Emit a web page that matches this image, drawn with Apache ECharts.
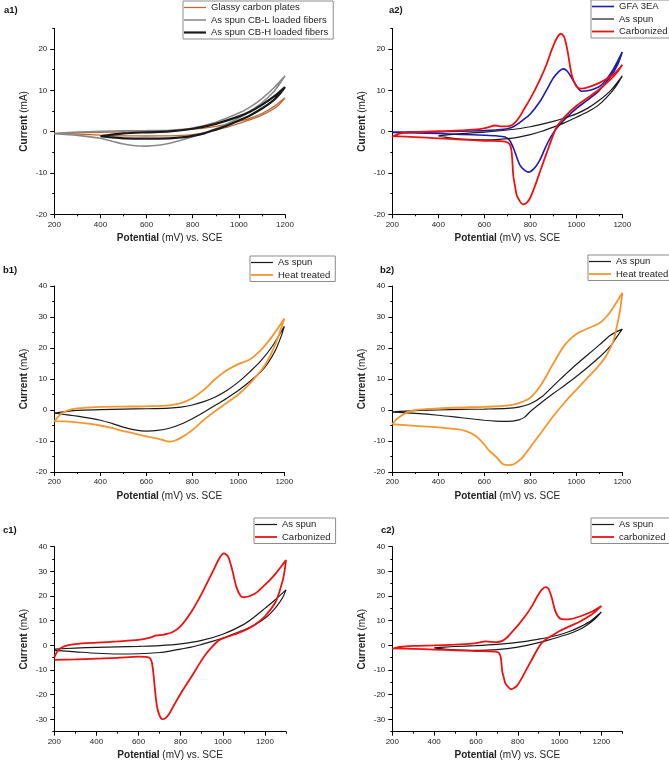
<!DOCTYPE html>
<html><head><meta charset="utf-8">
<script src="https://cdn.jsdelivr.net/npm/echarts@6/dist/echarts.min.js"></script>
<style>html,body{margin:0;padding:0;background:#fff}#c{width:669px;height:765px}</style>
</head><body><div id="c"></div>
<script>
// ---------- tick values ----------
const xTicks = [200,400,600,800,1000,1200];
const xMinor = [300,500,700,900,1100];
const xMinorC = [300,500,700,900,1100,1300];
const yTicksA = [-20,-10,0,10,20];
const yMinorA = [-15,-5,5,15,25];
const yTicksB = [-20,-10,0,10,20,30,40];
const yMinorB = [-15,-5,5,15,25,35];
const yTicksC = [-30,-20,-10,0,10,20,30,40];
const yMinorC = [-35,-25,-15,-5,5,15,25,35];

// ---------- a1 ----------
const a1Glassy = [[200,-0.4],[300,-0.25],[400,-0.15],[500,-0.05],[600,0.05],[700,0.2],[800,0.6],[900,1.3],[1000,2.5],[1050,3.3],[1100,4.4],[1150,6.0],[1200,8.2],
 [1175,6.6],[1150,5.5],[1100,4.0],[1050,2.9],[1000,2.0],[950,1.1],[900,0.4],[850,-0.3],[800,-0.7],[750,-0.9],[700,-1.0],[600,-1.05],[500,-1.0],[400,-0.85],[300,-0.6],[200,-0.4]];
const a1CBL = [[200,-0.5],[300,-0.1],[400,0.1],[500,0.2],[600,0.25],[700,0.35],[800,0.9],[900,2.3],[1000,4.5],[1050,6.0],[1100,8.0],[1150,10.5],[1200,13.5],
 [1175,11.4],[1150,9.6],[1100,7.0],[1050,5.0],[1000,3.3],[950,1.9],[900,0.7],[850,-0.3],[800,-1.2],[750,-2.1],[700,-2.8],[650,-3.3],[600,-3.5],[550,-3.4],[500,-3.0],[450,-2.3],[400,-1.6],[300,-0.9],[200,-0.5]];
const a1CBH = [[400,-1.1],[450,-0.7],[500,-0.4],[600,-0.15],[700,0.05],[800,0.7],[900,1.9],[1000,3.7],[1050,4.9],[1100,6.5],[1150,8.4],[1200,10.8],
 [1175,9.0],[1150,7.6],[1100,5.6],[1050,4.0],[1000,2.7],[950,1.5],[900,0.5],[850,-0.4],[800,-1.0],[750,-1.4],[700,-1.6],[600,-1.7],[500,-1.6],[450,-1.4],[400,-1.1]];

// ---------- a2 ----------
const a2GFA = [[200,-0.1],[300,-0.05],[400,0],[500,0.1],[600,0.25],[650,0.4],[700,0.7],[730,1.3],[770,2.9],[800,4.3],[842,7.3],[870,10.0],[900,13.0],[925,14.6],[943,15.2],[960,14.7],[980,13.0],[1000,11.2],[1023,9.8],[1050,9.9],[1080,10.4],[1103,11.0],[1130,12.6],[1160,15.0],[1200,19.3],
 [1180,16.3],[1150,13.4],[1100,10.0],[1050,7.7],[1000,5.6],[960,3.6],[930,1.8],[900,-0.3],[870,-3.3],[842,-6.8],[815,-9.0],[791,-9.8],[772,-9.2],[755,-8.1],[740,-6.0],[726,-3.9],[710,-2.1],[690,-1.3],[650,-1.0],[600,-0.85],[500,-0.65],[400,-0.45],[300,-0.3],[200,-0.2]];
const a2Spun = [[400,-1.0],[450,-0.7],[500,-0.45],[600,-0.1],[700,0.4],[800,1.2],[900,2.5],[950,3.3],[1000,4.3],[1050,5.7],[1100,7.6],[1150,10.0],[1200,13.5],
 [1175,11.2],[1150,9.4],[1100,6.6],[1050,4.8],[1000,3.5],[950,2.2],[900,1.1],[850,0.1],[800,-0.7],[750,-1.3],[700,-1.7],[650,-1.9],[600,-2.0],[500,-1.8],[450,-1.5],[400,-1.0]];
const a2Carb = [[200,-1.3],[225,-0.6],[250,-0.3],[300,-0.1],[400,0.1],[500,0.3],[580,0.6],[620,1.1],[645,1.5],[670,1.3],[700,1.3],[726,1.8],[750,3.3],[770,5.2],[800,8.0],[842,12.6],[870,16.2],[893,19.8],[915,22.6],[933,23.7],[948,22.8],[962,19.5],[980,13.8],[1000,11.0],[1020,10.4],[1050,10.7],[1100,11.8],[1132,12.8],[1170,14.3],[1200,16.2],
 [1175,14.2],[1150,12.7],[1100,10.2],[1050,8.2],[1000,6.2],[960,4.2],[943,3.2],[915,1.2],[895,-1.5],[871,-5.2],[845,-9.2],[820,-13.2],[797,-16.3],[780,-17.4],[767,-17.6],[754,-16.8],[741,-15.4],[733,-13.0],[726,-10.6],[719,-5.0],[710,-3.0],[690,-2.4],[600,-2.2],[500,-1.9],[400,-1.6],[300,-1.3],[200,-1.1]];

// ---------- b1 ----------
const b1Spun = [[200,-1.0],[250,-0.5],[300,-0.1],[400,0.1],[500,0.3],[600,0.4],[700,0.6],[750,0.9],[800,1.6],[850,2.7],[900,4.2],[950,6.3],[1000,9.0],[1050,12.3],[1100,16.0],[1150,20.8],[1200,27.0],
 [1185,23.5],[1160,19.0],[1130,15.3],[1100,12.5],[1050,9.2],[1000,6.3],[950,3.8],[900,1.5],[850,-0.7],[800,-2.8],[750,-4.6],[700,-5.9],[650,-6.6],[600,-6.8],[550,-6.4],[500,-5.5],[450,-4.3],[400,-3.3],[300,-2.0],[250,-1.5],[200,-1.0]];
const b1Heat = [[200,-3.7],[215,-2.3],[235,-1.0],[260,-0.1],[300,0.5],[350,0.8],[400,1.0],[500,1.1],[600,1.2],[700,1.5],[750,2.2],[800,3.8],[850,6.5],[900,10.0],[950,12.8],[1000,14.8],[1050,16.3],[1100,19.5],[1150,24.0],[1200,29.5],
 [1185,26.0],[1160,21.0],[1130,16.2],[1100,12.8],[1050,8.5],[1000,5.0],[950,2.3],[900,-0.3],[850,-3.2],[800,-6.5],[750,-9.0],[720,-10.0],[700,-10.2],[680,-9.9],[650,-9.2],[600,-8.5],[550,-7.6],[500,-6.8],[450,-5.8],[400,-5.0],[300,-4.0],[250,-3.7],[200,-3.6]];

// ---------- b2 ----------
const b2Spun = [[200,-0.6],[300,-0.2],[400,0],[500,0.2],[600,0.3],[700,0.5],[750,0.9],[800,2.0],[850,4.3],[900,7.8],[950,11.3],[1000,14.7],[1050,17.8],[1100,21.0],[1150,24.2],[1200,26.1],
 [1175,23.5],[1150,20.8],[1100,17.0],[1050,13.8],[1000,10.8],[950,8.0],[900,5.3],[850,2.5],[800,-0.5],[775,-2.3],[750,-3.2],[700,-3.7],[650,-3.6],[600,-3.3],[500,-2.5],[400,-1.7],[300,-1.1],[200,-0.7]];
const b2Heat = [[200,-4.6],[215,-3.2],[240,-1.8],[270,-0.6],[300,0],[400,0.5],[500,0.8],[600,1.0],[700,1.4],[750,2.2],[800,4.0],[850,8.5],[900,15.0],[950,21.0],[1000,24.5],[1050,26.3],[1100,28.0],[1130,30.0],[1160,33.0],[1200,37.8],
 [1190,32.0],[1175,26.5],[1160,22.0],[1130,17.5],[1100,14.5],[1050,10.5],[1000,6.5],[950,2.5],[900,-2.0],[850,-7.0],[800,-12.0],[760,-15.8],[730,-17.4],[710,-17.8],[680,-17.4],[650,-15.0],[620,-13.0],[590,-10.3],[560,-8.2],[520,-6.8],[480,-6.2],[400,-5.6],[300,-5.1],[200,-4.6]];

// ---------- c1 ----------
const c1Spun = [[200,-1.5],[300,-1.1],[400,-0.8],[500,-0.6],[600,-0.4],[700,-0.1],[800,0.6],[900,2.0],[1000,4.5],[1100,8.5],[1150,11.5],[1200,15.0],[1250,18.6],[1300,22.5],
 [1285,19.5],[1260,16.3],[1230,13.3],[1200,11.0],[1150,8.2],[1100,6.2],[1050,4.6],[1000,3.0],[950,1.6],[900,0.4],[850,-0.7],[800,-1.5],[750,-2.3],[700,-2.9],[600,-3.4],[500,-3.5],[400,-3.2],[300,-2.6],[200,-2.0]];
const c1Carb = [[200,-5.0],[210,-3.0],[225,-1.5],[250,-0.3],[300,0.5],[400,1.1],[500,1.6],[600,2.2],[650,3.0],[680,3.9],[720,4.4],[760,5.3],[800,7.8],[850,13.5],[900,21.0],[950,29.5],[985,35.5],[1005,37.3],[1025,36.0],[1045,30.5],[1065,23.5],[1085,20.0],[1100,19.5],[1150,20.8],[1200,24.5],[1250,29.0],[1300,34.6],
 [1290,28.5],[1275,23.5],[1250,17.5],[1200,11.8],[1150,8.3],[1100,6.0],[1050,4.3],[1000,2.8],[980,2.0],[950,-0.5],[920,-3.5],[890,-7.3],[860,-11.5],[830,-15.5],[800,-19.5],[770,-24.0],[745,-27.8],[725,-29.7],[712,-29.9],[700,-28.5],[688,-25.0],[678,-18.0],[670,-11.0],[662,-6.5],[650,-5.0],[600,-4.6],[500,-5.1],[400,-5.4],[300,-5.7],[200,-5.9]];

// ---------- c2 ----------
const c2Spun = [[400,-1.0],[450,-0.7],[500,-0.45],[600,-0.1],[700,0.4],[800,1.2],[900,2.5],[950,3.3],[1000,4.3],[1050,5.7],[1100,7.6],[1150,10.0],[1200,13.5],
 [1175,11.2],[1150,9.4],[1100,6.6],[1050,4.8],[1000,3.5],[950,2.2],[900,1.1],[850,0.1],[800,-0.7],[750,-1.3],[700,-1.7],[650,-1.9],[600,-2.0],[500,-1.8],[450,-1.5],[400,-1.0]];
const c2Carb = [[200,-1.5],[225,-0.8],[250,-0.5],[300,-0.2],[400,0],[500,0.3],[580,0.7],[620,1.2],[645,1.6],[670,1.4],[700,1.3],[726,1.8],[750,3.3],[770,5.2],[800,8.0],[842,12.6],[870,16.2],[893,19.8],[915,22.6],[933,23.6],[948,22.8],[962,19.5],[980,13.8],[1000,11.0],[1025,10.5],[1050,10.6],[1100,11.8],[1150,13.5],[1200,16.0],
 [1175,14.0],[1150,12.3],[1100,9.8],[1050,7.8],[1000,5.8],[960,3.8],[943,3.0],[915,1.0],[895,-1.5],[871,-5.2],[845,-9.2],[820,-13.2],[797,-16.3],[780,-17.4],[767,-17.8],[754,-16.8],[741,-15.4],[733,-13.0],[726,-10.6],[719,-5.0],[710,-3.0],[690,-2.5],[600,-2.3],[500,-2.0],[400,-1.7],[300,-1.4],[200,-1.2]];

// ---------- presentation ----------
const FF = '"Liberation Sans", Arial, sans-serif';
const C = {brown:'#bb6a34', gray:'#8a8a8a', black:'#1a1a1a', blue:'#1c1cb0', red:'#f01010', orange:'#f5962e'};

const panels = [
 {label:'a1)', lab:[4,5], grid:{left:54.3,top:28.4,width:230.7,height:185.9}, xMax:1200, xMinor:xMinor, yMin:-20, yMax:25, yTicks:yTicksA, yMinor:yMinorA,
  legend:{left:183, top:1}, series:[['Glassy carbon plates',a1Glassy,C.brown,1.3],['As spun CB-L loaded fibers',a1CBL,C.gray,1.6],['As spun CB-H loaded fibers',a1CBH,C.black,2.2]]},
 {label:'a2)', lab:[389,5], grid:{left:392.3,top:28.4,width:230,height:185.9}, xMax:1200, xMinor:xMinor, yMin:-20, yMax:25, yTicks:yTicksA, yMinor:yMinorA,
  legend:{left:591, top:0}, series:[['GFA 3EA',a2GFA,C.blue,1.6],['As spun',a2Spun,C.black,1.2],['Carbonized',a2Carb,C.red,1.8]]},
 {label:'b1)', lab:[3,265], grid:{left:54.3,top:286,width:230,height:186}, xMax:1200, xMinor:xMinor, yMin:-20, yMax:40, yTicks:yTicksB, yMinor:yMinorB,
  legend:{left:250, top:256}, series:[['As spun',b1Spun,C.black,1.2],['Heat treated',b1Heat,C.orange,1.8]]},
 {label:'b2)', lab:[380,265], grid:{left:392.3,top:286,width:230,height:186}, xMax:1200, xMinor:xMinor, yMin:-20, yMax:40, yTicks:yTicksB, yMinor:yMinorB,
  legend:{left:588, top:255}, series:[['As spun',b2Spun,C.black,1.2],['Heat treated',b2Heat,C.orange,1.8]]},
 {label:'c1)', lab:[3,525], grid:{left:54.3,top:546.7,width:231.7,height:185}, xMax:1300, xMinor:xMinorC, yMin:-35, yMax:40, yTicks:yTicksC, yMinor:yMinorC,
  legend:{left:254, top:518}, series:[['As spun',c1Spun,C.black,1.2],['Carbonized',c1Carb,C.red,1.8]]},
 {label:'c2)', lab:[381,525], grid:{left:392.3,top:546.7,width:230,height:185}, xMax:1300, xMinor:xMinorC, yMin:-35, yMax:40, yTicks:yTicksC, yMinor:yMinorC,
  legend:{left:591, top:518}, series:[['As spun',c2Spun,C.black,1.2],['carbonized',c2Carb,C.red,1.8]]}
];

// legend icon: a horizontal bar of thickness w inside a 22x10 box
function lineIcon(w){ const a=(5-w/2).toFixed(2), b=(5+w/2).toFixed(2);
  return `path://M0,0M22,10M0,${a}L22,${a}L22,${b}L0,${b}Z`; }

const grids=[], xAxes=[], yAxes=[], series=[], legends=[], titles=[];
const nameStyle = {fontSize:10, color:'#222', fontFamily:FF, rich:{b:{fontSize:10, fontWeight:'bold', color:'#222', fontFamily:FF}}};
const fmt = v => String(v);
panels.forEach((p,i)=>{
  grids.push(Object.assign({containLabel:false}, p.grid));
  const ax = 2*i;
  xAxes.push({type:'value', gridIndex:i, position:'bottom', min:200, max:p.xMax,
    axisLine:{show:true, onZero:false, lineStyle:{color:'#000', width:1}},
    axisTick:{show:true, customValues:xTicks, length:4, lineStyle:{color:'#000', width:1}},
    axisLabel:{customValues:xTicks, formatter:fmt, fontSize:8, color:'#222', fontFamily:FF, margin:6},
    splitLine:{show:false},
    name:'{b|Potential} (mV) vs. SCE', nameLocation:'middle', nameGap:19, nameTextStyle:nameStyle});
  xAxes.push({type:'value', gridIndex:i, position:'bottom', min:200, max:p.xMax,
    axisLine:{show:false, onZero:false}, axisTick:{show:true, customValues:p.xMinor, length:2, lineStyle:{color:'#000', width:1}},
    axisLabel:{show:false}, splitLine:{show:false}});
  yAxes.push({type:'value', gridIndex:i, position:'left', min:p.yMin, max:p.yMax,
    axisLine:{show:true, onZero:false, lineStyle:{color:'#000', width:1}},
    axisTick:{show:true, customValues:p.yTicks, length:4, lineStyle:{color:'#000', width:1}},
    axisLabel:{customValues:p.yTicks, formatter:fmt, fontSize:8, color:'#222', fontFamily:FF, margin:7},
    splitLine:{show:false},
    name:'{b|Current} (mA)', nameLocation:'middle', nameGap:25, nameRotate:90, nameTextStyle:nameStyle});
  yAxes.push({type:'value', gridIndex:i, position:'left', min:p.yMin, max:p.yMax,
    axisLine:{show:false, onZero:false}, axisTick:{show:true, customValues:p.yMinor, length:2, lineStyle:{color:'#000', width:1}},
    axisLabel:{show:false}, splitLine:{show:false}});
  p.series.forEach(([name,data,color,w])=>{
    series.push({type:'line', name, data, xAxisIndex:ax, yAxisIndex:ax, symbol:'none', showSymbol:false,
      smooth:0.3, lineStyle:{color, width:w}, itemStyle:{color}, emphasis:{disabled:true}, silent:true});
  });
  legends.push({left:p.legend.left, top:p.legend.top, orient:'vertical', selectedMode:false,
    data:p.series.map(s=>({name:s[0], icon:lineIcon(s[3]), itemStyle:{color:s[2]}})),
    itemWidth:22, itemHeight:10, itemGap:1.5,
    padding:[1,5,1,1], borderColor:'#8c8c8c', borderWidth:1,
    textStyle:{fontSize:9.5, color:'#222', fontFamily:FF, lineHeight:11}});
  titles.push({text:p.label, left:p.lab[0], top:p.lab[1], padding:0,
    textStyle:{fontSize:9.5, fontWeight:'bold', color:'#111', fontFamily:FF}});
});

const chart = echarts.init(document.getElementById('c'), null, {renderer:'canvas'});
chart.setOption({animation:false, backgroundColor:'#fff', title:titles, grid:grids, xAxis:xAxes, yAxis:yAxes, legend:legends, series});
</script>
</body></html>
